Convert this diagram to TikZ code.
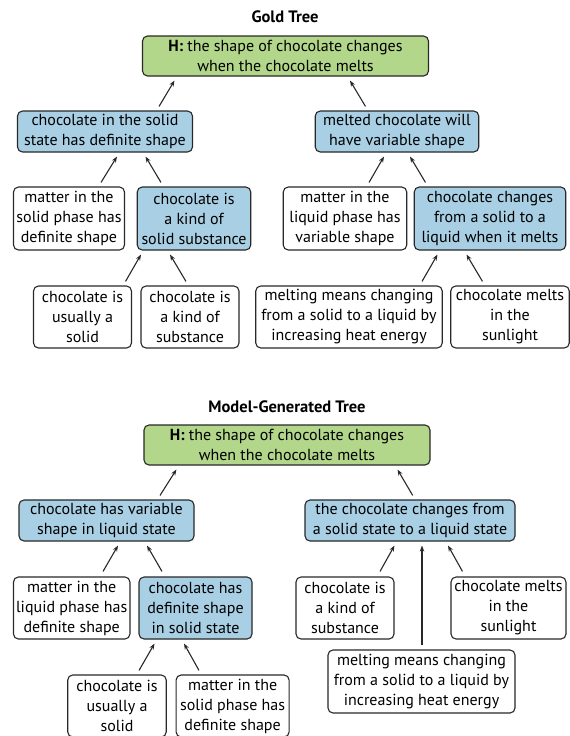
\documentclass[tikz,border=0pt]{standalone}
\usepackage{fontspec}
\setmainfont{PT Sans}
\usetikzlibrary{arrows.meta}
\definecolor{hgreen}{RGB}{178,214,138}
\definecolor{fblue}{RGB}{168,207,228}
\definecolor{edge}{RGB}{40,40,40}

\begin{document}
\begin{tikzpicture}[x=1pt, y=-1pt,
    every node/.style={font=\fontsize{16}{20}\selectfont, align=center, inner sep=0pt},
    box/.style={draw=edge, line width=1.1pt, rounded corners=5pt, fill=white},
    hyp/.style={box, fill=hgreen},
    fact/.style={box, fill=fblue},
    ttl/.style={font=\fontsize{16.5}{20}\selectfont\bfseries},
    arr/.style={-{Stealth[length=6pt, width=4.5pt]}, line width=1.1pt, draw=edge}]
                \useasboundingbox (0,0) rectangle (570,736);
                % gold tree
                \node[ttl] (gT) at (285,17) {Gold Tree};
                \node[hyp, minimum width=286, minimum height=40] (gH) at (285.5,56) {\textbf{H:} the shape of chocolate changes\\when the chocolate melts};
                \node[fact, minimum width=175, minimum height=41] (gL) at (105,131.5) {chocolate in the solid\\state has definite shape};
                \node[fact, minimum width=163.5, minimum height=41] (gR) at (397,131.5) {melted chocolate will\\have variable shape};
                \node[box, minimum width=111, minimum height=63] (gLa) at (69,218.5) {matter in the\\solid phase has\\definite shape};
                \node[fact, minimum width=113.5, minimum height=63] (gLb) at (194,218.5) {chocolate is\\a kind of\\solid substance};
                \node[box, minimum width=123.5, minimum height=63] (gRa) at (345,218.5) {matter in the\\liquid phase has\\variable shape};
                \node[fact, minimum width=151.5, minimum height=63] (gRb) at (490,218.5) {chocolate changes\\from a solid to a\\liquid when it melts};
                \node[box, minimum width=98, minimum height=62] (gLba) at (82.5,317) {chocolate is\\usually a\\solid};
                \node[box, minimum width=98, minimum height=62] (gLbb) at (190,317) {chocolate is\\a kind of\\substance};
                \node[box, minimum width=186.5, minimum height=62] (gRba) at (349,317) {melting means changing\\from a solid to a liquid by\\increasing heat energy};
                \node[box, minimum width=118.5, minimum height=62] (gRbb) at (510,317) {chocolate melts\\in the\\sunlight};
                \draw[arr] ([shift={(54,-4)}]gL.north) -- ([shift={(-111,4)}]gH.south);
                \draw[arr] ([shift={(-31.5,-4)}]gR.north) -- ([shift={(64.5,4)}]gH.south);
                \draw[arr] ([shift={(32,-4)}]gLa.north) -- ([shift={(12,4)}]gL.south);
                \draw[arr] ([shift={(-33,-4)}]gLb.north) -- ([shift={(40.5,4)}]gL.south);
                \draw[arr] ([shift={(24,-4)}]gRa.north) -- ([shift={(-13,4)}]gR.south);
                \draw[arr] ([shift={(-64.5,-4)}]gRb.north) -- ([shift={(13,4)}]gR.south);
                \draw[arr] ([shift={(43,-4)}]gLba.north) -- ([shift={(-53,4)}]gLb.south);
                \draw[arr] ([shift={(-4,-4)}]gLbb.north) -- ([shift={(-24,4)}]gLb.south);
                \draw[arr] ([shift={(73,-4)}]gRba.north) -- ([shift={(-52.5,4)}]gRb.south);
                \draw[arr] ([shift={(-27.5,-4)}]gRbb.north) -- ([shift={(-23.5,4)}]gRb.south);
                % model-generated tree
                \node[ttl] (mT) at (287,407) {Model-Generated Tree};
                \node[hyp, minimum width=286, minimum height=40] (mH) at (287,445) {\textbf{H:} the shape of chocolate changes\\when the chocolate melts};
                \node[fact, minimum width=175, minimum height=41] (mL) at (106.5,520.5) {chocolate has variable\\shape in liquid state};
                \node[fact, minimum width=210, minimum height=41] (mR) at (410,520.5) {the chocolate changes from\\a solid state to a liquid state};
                \node[box, minimum width=116.5, minimum height=62] (mLa) at (71.7,608) {matter in the\\liquid phase has\\definite shape};
                \node[fact, minimum width=113, minimum height=62] (mLb) at (195.5,608) {chocolate has\\definite shape\\in solid state};
                \node[box, minimum width=98, minimum height=62] (mRa) at (345,608) {chocolate is\\a kind of\\substance};
                \node[box, minimum width=115, minimum height=62] (mRb) at (508.5,608) {chocolate melts\\in the\\sunlight};
                \node[box, minimum width=187, minimum height=63] (mRc) at (421.5,681.5) {melting means changing\\from a solid to a liquid by\\increasing heat energy};
                \node[box, minimum width=98.5, minimum height=62] (mLba) at (117,706) {chocolate is\\usually a\\solid};
                \node[box, minimum width=113, minimum height=62] (mLbb) at (232.6,706) {matter in the\\solid phase has\\definite shape};
                \draw[arr] ([shift={(53.5,-4)}]mL.north) -- ([shift={(-110.6,4)}]mH.south);
                \draw[arr] ([shift={(2.7,-4)}]mR.north) -- ([shift={(110.5,4)}]mH.south);
                \draw[arr] ([shift={(31.3,-5)}]mLa.north) -- ([shift={(11.5,4)}]mL.south);
                \draw[arr] ([shift={(-33.5,-5)}]mLb.north) -- ([shift={(40.5,4)}]mL.south);
                \draw[arr] ([shift={(35,-5)}]mRa.north) -- ([shift={(-15.5,4)}]mR.south);
                \draw[arr] ([shift={(-46,-5)}]mRb.north) -- ([shift={(38,4)}]mR.south);
                \draw[arr] ([shift={(0.5,-4)}]mRc.north) -- ([shift={(12,4)}]mR.south);
                \draw[arr] ([shift={(22,-4)}]mLba.north) -- ([shift={(-41,4)}]mLb.south);
                \draw[arr] ([shift={(-33.6,-4)}]mLbb.north) -- ([shift={(-11.5,4)}]mLb.south);
            \end{tikzpicture}
\end{document}
